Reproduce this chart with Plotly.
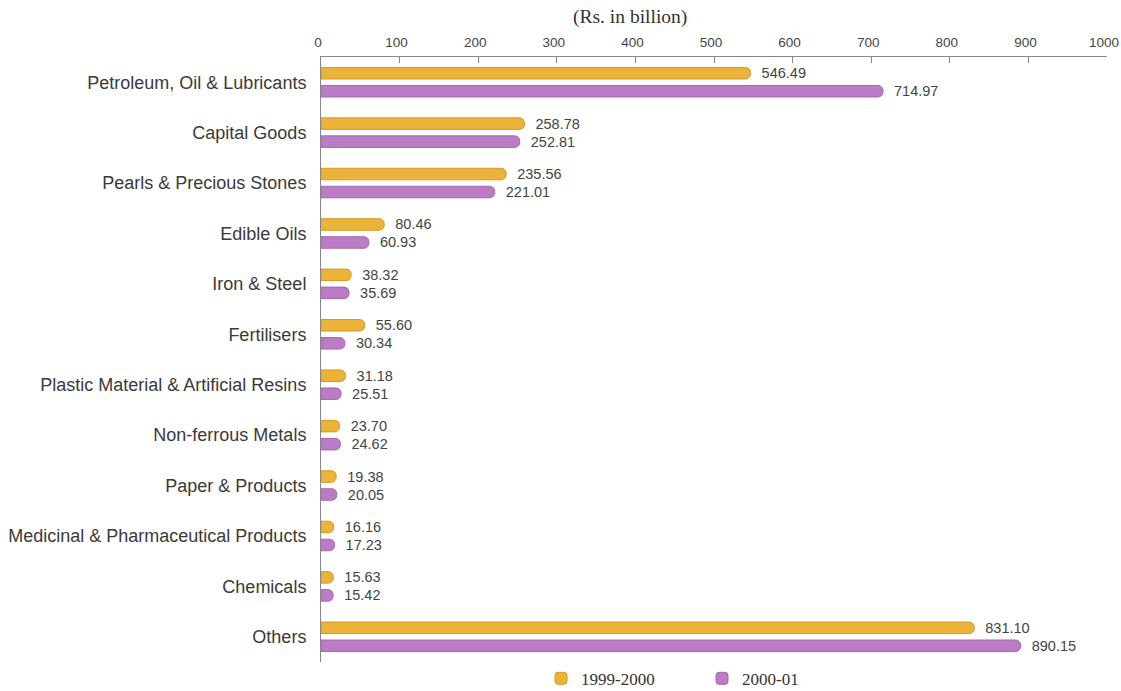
import plotly.graph_objects as go

categories = [
    "Petroleum, Oil & Lubricants",
    "Capital Goods",
    "Pearls & Precious Stones",
    "Edible Oils",
    "Iron & Steel",
    "Fertilisers",
    "Plastic Material & Artificial Resins",
    "Non-ferrous Metals",
    "Paper & Products",
    "Medicinal & Pharmaceutical Products",
    "Chemicals",
    "Others",
]
values_1999_2000 = [546.49, 258.78, 235.56, 80.46, 38.32, 55.60, 31.18, 23.70, 19.38, 16.16, 15.63, 831.10]
values_2000_01 = [714.97, 252.81, 221.01, 60.93, 35.69, 30.34, 25.51, 24.62, 20.05, 17.23, 15.42, 890.15]
series_names = ["1999-2000", "2000-01"]
x_ticks = [0, 100, 200, 300, 400, 500, 600, 700, 800, 900, 1000]

colors = ["#EBB33A", "#BC7CC5"]
edge = ["#D39A22", "#A566AF"]

fig = go.Figure()
for name, vals, c, e in zip(series_names, [values_1999_2000, values_2000_01], colors, edge):
    fig.add_trace(go.Bar(
        y=categories, x=vals, orientation="h", name=name,
        marker=dict(color=c, line=dict(color=e, width=1), cornerradius=5),
        text=[f"{v:.2f}" for v in vals],
        texttemplate="  %{text}",
        textposition="outside",
        constraintext="none",
        textfont=dict(family="Liberation Sans, Arial, sans-serif", size=14.5, color="#444444"),
        cliponaxis=False,
    ))

L, R = 321, 14
plot_w = 1121 - L - R

fig.update_layout(
    width=1121, height=691,
    paper_bgcolor="white", plot_bgcolor="white",
    margin=dict(l=L, r=R, t=57, b=29, autoexpand=False),
    barmode="group", bargap=0.286, bargroupgap=0.36,
    font=dict(family="Liberation Sans, Arial, sans-serif", color="#3a3a3a"),
    showlegend=True,
    legend=dict(
        orientation="h", x=(541 - L) / plot_w, xanchor="left", y=0.002, yanchor="top",
        font=dict(family="Liberation Serif, Times New Roman, serif", size=17, color="#333333"),
        entrywidth=116, entrywidthmode="pixels",
        bgcolor="rgba(0,0,0,0)",
    ),
    annotations=[dict(
        text="(Rs. in billion)", x=(630 - L) / plot_w * 1000, xref="x", xanchor="center",
        y=1, yref="paper", yanchor="bottom", yshift=27, showarrow=False,
        font=dict(family="Liberation Serif, Times New Roman, serif", size=19.5, color="#333333"),
    )],
)

fig.update_xaxes(
    side="top", range=[0, 1000], tickvals=x_ticks, ticktext=[str(t) for t in x_ticks],
    showgrid=False, zeroline=False, automargin=False,
    showline=True, linecolor="#888888", linewidth=1,
    ticks="inside", ticklen=6, tickcolor="#888888",
    tickfont=dict(size=13.5, color="#444444"), ticklabelstandoff=4,
    ticklabeloverflow="allow", ticklabelshift=-3,
)
fig.update_yaxes(
    autorange="reversed", showgrid=False, zeroline=False, automargin=False,
    showline=True, linecolor="#888888", linewidth=1,
    ticks="", tickfont=dict(size=18, color="#3a3a3a"), ticklabelstandoff=10,
)

fig.write_html(
    "out.html",
    config={"displayModeBar": False},
    post_script="document.body.style.margin='0';document.body.style.overflow='hidden';",
)
